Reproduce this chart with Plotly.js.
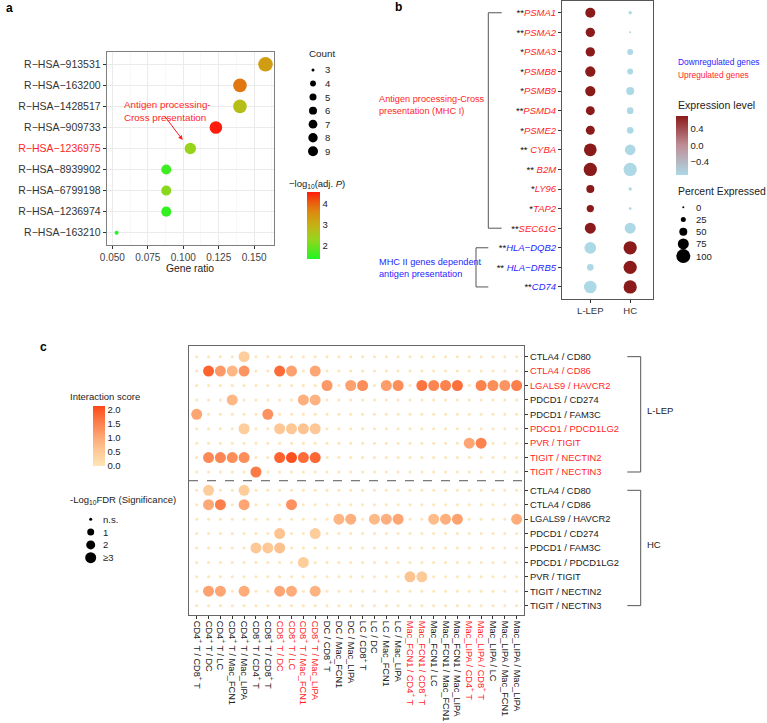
<!DOCTYPE html>
<html><head><meta charset="utf-8">
<script src="https://cdn.plot.ly/plotly-3.0.1.min.js"></script>
<style>html,body{margin:0;padding:0;background:#fff}#chart{width:767px;height:723px}</style>
</head><body><div id="chart"></div>
<script>
// ================= DATA =================
// ---- Panel a : Reactome enrichment ----
const pathways   = ['R−HSA−913531','R−HSA−163200','R−HSA−1428517','R−HSA−909733','R−HSA−1236975','R−HSA−8939902','R−HSA−6799198','R−HSA−1236974','R−HSA−163210'];
const geneRatio  = [0.158, 0.140, 0.140, 0.123, 0.105, 0.088, 0.088, 0.088, 0.053];
const geneCount  = [9, 8, 8, 7, 6, 5, 5, 5, 3];
const negLog10P  = [3.30, 3.80, 2.75, 4.57, 2.35, 1.60, 2.20, 1.50, 1.37];
const highlightPathway = 'R−HSA−1236975';
const ratioTicks = [0.050, 0.075, 0.100, 0.125, 0.150];
const countLegend = [3, 4, 5, 6, 7, 8, 9];
const pLegendTicks = [2, 3, 4];

// ---- Panel b : gene dot plot ----
const genes      = ['PSMA1','PSMA2','PSMA3','PSMB8','PSMB9','PSMD4','PSME2','CYBA','B2M','LY96','TAP2','SEC61G','HLA−DQB2','HLA−DRB5','CD74'];
const geneStars  = ['**','**','*','*','*','**','*','**\u00a0','**\u00a0','*','*','**','**','**\u00a0','**'];
const geneUp     = [true,true,true,true,true,true,true,true,true,true,true,true,false,false,false];
const groupsB    = ['L-LEP','HC'];
const exprLLEP   = [0.707,0.707,0.707,0.707,0.707,0.707,0.707,0.707,0.707,0.707,0.707,0.707,-0.707,-0.707,-0.707];
const exprHC     = [-0.707,-0.707,-0.707,-0.707,-0.707,-0.707,-0.707,-0.707,-0.707,-0.707,-0.707,-0.707,0.707,0.707,0.707];
const pctLLEP    = [67,61,61,69,69,58,58,89,94,50,44,75,81,39,88];
const pctHC      = [11,0,33,33,50,39,39,72,94,11,6,75,94,94,94];
const pctLegend  = [0,25,50,75,100];
const exprTicks  = [-0.4, 0.0, 0.4];
const exprTickText = ['−0.4','0.0','0.4'];

// ---- Panel c : ligand-receptor interactions ----
const cellPairs = ['CD4<sup>+</sup> T / CD8<sup>+</sup> T','CD4<sup>+</sup> T / DC','CD4<sup>+</sup> T / LC','CD4<sup>+</sup> T / Mac_FCN1','CD4<sup>+</sup> T / Mac_LIPA',
  'CD8<sup>+</sup> T / CD4<sup>+</sup> T','CD8<sup>+</sup> T / CD8<sup>+</sup> T','CD8<sup>+</sup> T / DC','CD8<sup>+</sup> T / LC','CD8<sup>+</sup> T / Mac_FCN1','CD8<sup>+</sup> T / Mac_LIPA',
  'DC / CD8<sup>+</sup> T','DC / Mac_FCN1','DC / Mac_LIPA','LC / CD8<sup>+</sup> T','LC / DC','LC / Mac_FCN1','LC / Mac_LIPA',
  'Mac_FCN1 / CD4<sup>+</sup> T','Mac_FCN1 / CD8<sup>+</sup> T','Mac_FCN1 / LC','Mac_FCN1 / Mac_FCN1','Mac_FCN1 / Mac_LIPA',
  'Mac_LIPA / CD4<sup>+</sup> T','Mac_LIPA / CD8<sup>+</sup> T','Mac_LIPA / LC','Mac_LIPA / Mac_FCN1','Mac_LIPA / Mac_LIPA'];
const pairHighlighted = [false,false,false,false,false,false,false,true,true,true,true,false,false,false,false,false,false,false,true,true,false,false,false,true,true,false,false,false];
const interactions = ['CTLA4 / CD80','CTLA4 / CD86','LGALS9 / HAVCR2','PDCD1 / CD274','PDCD1 / FAM3C','PDCD1 / PDCD1LG2','PVR / TIGIT','TIGIT / NECTIN2','TIGIT / NECTIN3'];
const interactionsUpLLEP = ['CTLA4 / CD86','LGALS9 / HAVCR2','PDCD1 / PDCD1LG2','PVR / TIGIT','TIGIT / NECTIN2','TIGIT / NECTIN3'];
const groupsC = ['L-LEP','HC'];
// interaction score per (interaction, cell pair); 0 = not significant
const scoreLLEP = [
  [0,0,0,0,.45,0,0,0,0,0, 0,0,0,0,0,0,0,0,0,0, 0,0,0,0,0,0,0,0],
  [0,1.85,1.2,.8,1.25,0,0,1.75,1.1,0, 1.05,0,0,0,0,0,0,0,0,0, 0,0,0,0,0,0,0,0],
  [0,0,0,0,0,0,0,0,0,0, 0,1.2,0,1.1,1.35,0,1.15,1.35,0,1.65, 1.45,1.5,1.7,0,1.5,1.35,1.25,1.55],
  [0,0,0,.8,0,0,0,0,0,.9, .85,0,0,0,0,0,0,0,0,0, 0,0,0,0,0,0,0,0],
  [1.05,0,0,0,0,0,1.3,0,0,0, 0,0,0,0,0,0,0,0,0,0, 0,0,0,0,0,0,0,0],
  [0,0,0,0,.45,0,0,.55,.55,.6, .55,0,0,0,0,0,0,0,0,0, 0,0,0,0,0,0,0,0],
  [0,0,0,0,0,0,0,0,0,0, 0,0,0,0,0,0,0,0,0,0, 0,0,0,1.05,1.5,0,0,0],
  [0,1.4,1.45,1.35,1.35,0,0,1.85,2.05,1.75, 1.8,0,0,0,0,0,0,0,0,0, 0,0,0,0,0,0,0,0],
  [0,0,0,0,0,1.6,0,0,0,0, 0,0,0,0,0,0,0,0,0,0, 0,0,0,0,0,0,0,0]
];
const scoreHC = [
  [0,.45,0,0,.45,0,0,0,0,0, 0,0,0,0,0,0,0,0,0,0, 0,0,0,0,0,0,0,0],
  [0,1.0,1.55,0,1.05,0,0,0,1.3,0, 0,0,0,0,0,0,0,0,0,0, 0,0,0,0,0,0,0,0],
  [0,0,0,0,0,0,0,0,0,0, 0,0,.8,.9,0,.75,.9,1.05,0,0, .7,.9,1.1,0,0,0,0,.95],
  [0,0,0,0,0,0,0,.6,0,0, .45,0,0,0,0,0,0,0,0,0, 0,0,0,0,0,0,0,0],
  [0,0,0,0,0,.55,.55,.65,0,0, 0,0,0,0,0,0,0,0,0,0, 0,0,0,0,0,0,0,0],
  [0,0,0,0,0,0,0,0,0,.45, 0,0,0,0,0,0,0,0,0,0, 0,0,0,0,0,0,0,0],
  [0,0,0,0,0,0,0,0,0,0, 0,0,0,0,0,0,0,0,.6,.5, 0,0,0,0,0,0,0,0],
  [0,1.1,1.05,0,.95,0,0,1.05,.95,0, .85,0,0,0,0,0,0,0,0,0, 0,0,0,0,0,0,0,0],
  [0,0,0,0,0,0,0,0,0,0, 0,0,0,0,0,0,0,0,0,0, 0,0,0,0,0,0,0,0]
];
const sigOfSignificant = 3;            // all significant dots are drawn at the "≥3" size
const sigLegend = ['n.s.','1','2','≥3'];
const scoreTicks = [0, 0.5, 1.0, 1.5, 2.0];
const scoreTickText = ['0.0','0.5','1.0','1.5','2.0'];

// ================= STYLE / LAYOUT HELPERS =================
const W = 767, H = 723;
const FONT = 'Liberation Sans, Arial, Helvetica, sans-serif';
const RED = '#ff1f1f', BLUE = '#1f1fff', TXT = '#222', AX = '#333';
const px = x => x / W, py = y => 1 - y / H;
function note(x, y, text, opt) {
  return Object.assign({xref:'paper', yref:'paper', x:px(x), y:py(y), text:text, showarrow:false,
    xanchor:'left', yanchor:'middle', font:{family:FONT, size:9.5, color:TXT}}, opt || {});
}
const annotations = [], shapes = [], traces = [];

// ================= PANEL a =================
const scaleA = [[0,'#22f522'],[0.3,'#98d41c'],[0.5,'#c4b214'],[0.7,'#dc8a10'],[0.85,'#ec5a0e'],[1,'#ff1c0c']];
const sizeA = c => 4 + 10.5 * Math.sqrt((c - 3) / 6);
traces.push({type:'scatter', mode:'markers', xaxis:'x', yaxis:'y', hoverinfo:'skip', showlegend:false,
  x: geneRatio, y: pathways.map((_, i) => i),
  marker:{size: geneCount.map(sizeA), color: negLog10P, cmin:1.37, cmax:4.57, colorscale: scaleA, opacity:1, line:{width:0},
    showscale:true, colorbar:{x:px(307), xanchor:'left', y:py(191.7), yanchor:'top', len:67.3, lenmode:'pixels', thickness:13,
      xpad:0, ypad:0, outlinewidth:0, ticks:'', tickvals:pLegendTicks, tickfont:{family:FONT, size:9.5, color:TXT}}}});
annotations.push(note(4, 8, '<b>a</b>', {font:{family:FONT, size:12, color:'#000'}}));
annotations.push(note(190.3, 268, 'Gene ratio', {xanchor:'center', font:{family:FONT, size:10.3, color:TXT}}));
annotations.push(note(307, 54, 'Count', {font:{family:FONT, size:9.8, color:TXT}}));
annotations.push(note(287, 184, '−log<sub>10</sub>(adj. <i>P</i>)', {font:{family:FONT, size:9.5, color:TXT}}));
annotations.push(note(121.5, 111, 'Antigen processing-<br>Cross presentation', {align:'left', font:{family:FONT, size:9.8, color:RED}}));
annotations.push({xref:'paper', yref:'paper', x:px(182.7), y:py(140), ax:-19.4, ay:-25.7, axref:'pixel', ayref:'pixel',
  text:'', showarrow:true, arrowhead:2, arrowsize:0.9, arrowwidth:1, arrowcolor:RED});
// count legend
const countLegendX = 313, countLegendY0 = 70, countLegendStep = 13.55;
traces.push({type:'scatter', mode:'markers', xaxis:'x4', yaxis:'y4', hoverinfo:'skip', showlegend:false, cliponaxis:false,
  x: countLegend.map(() => countLegendX), y: countLegend.map((_, i) => countLegendY0 + i * countLegendStep),
  marker:{color:'#000', opacity:1, size: countLegend.map(c => 3 + 7 * Math.sqrt((c - 3) / 6)), line:{width:0}}});
countLegend.forEach((c, i) => annotations.push(note(323, countLegendY0 + i * countLegendStep, String(c))));

// ================= PANEL b =================
const scaleB = [[0,'#add8e6'],[0.5,'#bf8f97'],[1,'#8b1a1a']];
const sizeB = p => 2 + 12 * p / 100;
const bX = [], bY = [], bC = [], bS = [];
genes.forEach((g, i) => {
  bX.push(0); bY.push(i); bC.push(exprLLEP[i]); bS.push(sizeB(pctLLEP[i]));
  bX.push(1); bY.push(i); bC.push(exprHC[i]);   bS.push(sizeB(pctHC[i]));
});
traces.push({type:'scatter', mode:'markers', xaxis:'x2', yaxis:'y2', hoverinfo:'skip', showlegend:false,
  x:bX, y:bY, marker:{size:bS, color:bC, opacity:1, cmin:-0.707, cmax:0.707, colorscale:scaleB, line:{width:0},
    showscale:true, colorbar:{x:px(676), xanchor:'left', y:py(115.7), yanchor:'top', len:59.3, lenmode:'pixels', thickness:11.5,
      xpad:0, ypad:0, outlinewidth:0, ticks:'', tickvals:exprTicks, ticktext:exprTickText, tickfont:{family:FONT, size:9.5, color:TXT}}}});
const bTickText = genes.map((g, i) => `<span style="color:#111">${geneStars[i]}</span><span style="color:${geneUp[i] ? RED : BLUE}"><i>${g}</i></span>`);
annotations.push(note(393, 7.5, '<b>b</b>', {font:{family:FONT, size:12, color:'#000'}}));
annotations.push(note(376.5, 105, 'Antigen processing-Cross<br>presentation (MHC I)', {align:'left', font:{family:FONT, size:9.2, color:RED}}));
annotations.push(note(376.5, 267.5, 'MHC II genes dependent<br>antigen presentation', {align:'left', font:{family:FONT, size:9.2, color:BLUE}}));
annotations.push(note(676, 61.7, 'Downregulated genes', {font:{family:FONT, size:8.4, color:BLUE}}));
annotations.push(note(676, 74.7, 'Upregulated genes', {font:{family:FONT, size:8.4, color:RED}}));
annotations.push(note(676, 105, 'Expression level', {font:{family:FONT, size:10.6, color:TXT}}));
annotations.push(note(676, 191.7, 'Percent Expressed', {font:{family:FONT, size:10.4, color:TXT}}));
const pctLegendX = 683.3, pctLegendY0 = 207.3, pctLegendStep = 12.2;
traces.push({type:'scatter', mode:'markers', xaxis:'x4', yaxis:'y4', hoverinfo:'skip', showlegend:false, cliponaxis:false,
  x: pctLegend.map(() => pctLegendX), y: pctLegend.map((_, i) => pctLegendY0 + i * pctLegendStep),
  marker:{color:'#000', opacity:1, size: pctLegend.map(sizeB), line:{width:0}}});
pctLegend.forEach((p, i) => annotations.push(note(694, pctLegendY0 + i * pctLegendStep, String(p))));
// brackets b
const brB = [[0, 11, 488.3, 501.7], [12, 14, 476, 488.3]];
brB.forEach(([r0, r1, xa, xb]) => {
  const ln = {color:'#555', width:1};
  shapes.push({type:'line', xref:'paper', yref:'y2', x0:px(xa), x1:px(xa), y0:r0, y1:r1, line:ln});
  shapes.push({type:'line', xref:'paper', yref:'y2', x0:px(xa), x1:px(xb), y0:r0, y1:r0, line:ln});
  shapes.push({type:'line', xref:'paper', yref:'y2', x0:px(xa), x1:px(xb), y0:r1, y1:r1, line:ln});
});

// ================= PANEL c =================
const scaleC = [[0,'#fde5b8'],[0.25,'#fdc996'],[0.5,'#fda472'],[0.75,'#fc7a46'],[1,'#fe4816']];
const groupGap = 0.27;
const rowPos = (g, r) => g * (interactions.length + groupGap) + r;
const sizeSig = s => [3, 7, 9, 11][s];
const cX = [], cY = [], cC = [], cS = [];
[scoreLLEP, scoreHC].forEach((mat, g) => {
  mat.forEach((row, r) => row.forEach((v, k) => {
    cX.push(k); cY.push(rowPos(g, r)); cC.push(v); cS.push(sizeSig(v > 0 ? sigOfSignificant : 0));
  }));
});
traces.push({type:'scatter', mode:'markers', xaxis:'x3', yaxis:'y3', hoverinfo:'skip', showlegend:false,
  x:cX, y:cY, marker:{size:cS, color:cC, opacity:1, cmin:0, cmax:2.13, colorscale:scaleC, line:{width:0},
    showscale:true, colorbar:{x:px(92.7), xanchor:'left', y:py(406), yanchor:'top', len:60, lenmode:'pixels', thickness:12.3,
      xpad:0, ypad:0, outlinewidth:0, ticks:'', tickvals:scoreTicks, ticktext:scoreTickText, tickfont:{family:FONT, size:9.5, color:TXT}}}});
const cYVals = [], cYText = [];
groupsC.forEach((gName, g) => interactions.forEach((it, r) => {
  cYVals.push(rowPos(g, r));
  const red = g === 0 && interactionsUpLLEP.includes(it);
  cYText.push(red ? `<span style="color:${RED}">${it}</span>` : it);
}));
const cXText = cellPairs.map((p, k) => pairHighlighted[k] ? `<span style="color:${RED}">${p}</span>` : p);
annotations.push(note(38, 347, '<b>c</b>', {font:{family:FONT, size:12, color:'#000'}}));
annotations.push(note(67.5, 396.7, 'Interaction score', {font:{family:FONT, size:9.5, color:TXT}}));
annotations.push(note(67.5, 500, '-Log<sub>10</sub>FDR (Significance)', {font:{family:FONT, size:9.5, color:TXT}}));
const sigLegendX = 90.7, sigLegendY0 = 519.3, sigLegendStep = 12.8;
traces.push({type:'scatter', mode:'markers', xaxis:'x4', yaxis:'y4', hoverinfo:'skip', showlegend:false, cliponaxis:false,
  x: sigLegend.map(() => sigLegendX), y: sigLegend.map((_, i) => sigLegendY0 + i * sigLegendStep),
  marker:{color:'#000', opacity:1, size: sigLegend.map((_, i) => sizeSig(i)), line:{width:0}}});
sigLegend.forEach((s, i) => annotations.push(note(101.5, sigLegendY0 + i * sigLegendStep, s)));
// dashed separator between groups
shapes.push({type:'line', xref:'x3 domain', yref:'y3', x0:0, x1:1,
  y0:rowPos(1, 0) - (1 + groupGap) / 2 - 0.03, y1:rowPos(1, 0) - (1 + groupGap) / 2 - 0.03, line:{color:'#555', width:1, dash:'dash'}});
// group brackets c
groupsC.forEach((gName, g) => {
  const r0 = rowPos(g, 0), r1 = rowPos(g, interactions.length - 1), ln = {color:'#555', width:1};
  shapes.push({type:'line', xref:'paper', yref:'y3', x0:px(640.7), x1:px(640.7), y0:r0, y1:r1, line:ln});
  shapes.push({type:'line', xref:'paper', yref:'y3', x0:px(627.3), x1:px(640.7), y0:r0, y1:r0, line:ln});
  shapes.push({type:'line', xref:'paper', yref:'y3', x0:px(627.3), x1:px(640.7), y0:r1, y1:r1, line:ln});
  annotations.push({xref:'paper', yref:'y3', x:px(645), y:(r0 + r1) / 2 - 0.25, text:gName, showarrow:false,
    xanchor:'left', yanchor:'middle', font:{family:FONT, size:9.5, color:TXT}});
});

// ================= AXES =================
const frame = {showline:true, mirror:true, linewidth:1, zeroline:false, ticks:'outside', ticklen:3, tickwidth:1, tickcolor:AX, fixedrange:true};
const layout = {
  width:W, height:H, margin:{l:0, r:0, t:0, b:0}, paper_bgcolor:'#fff', plot_bgcolor:'rgba(0,0,0,0)',
  font:{family:FONT, size:9.5, color:TXT}, hovermode:false, showlegend:false,
  xaxis: Object.assign({}, frame, {domain:[px(106.7), px(274)], anchor:'y', range:[0.046, 0.164], linecolor:'#7f7f7f',
    tickvals:ratioTicks, ticktext:ratioTicks.map(v => v.toFixed(3)), tickfont:{family:FONT, size:10, color:'#444'},
    showgrid:true, gridcolor:'#ebebeb', gridwidth:1,
    minor:{tick0:0.0375, dtick:0.025, showgrid:true, gridcolor:'#f3f3f3', gridwidth:0.6, ticks:''}}),
  yaxis: Object.assign({}, frame, {domain:[py(245.3), py(51.7)], anchor:'x', range:[8.6, -0.6], linecolor:'#7f7f7f',
    tickvals:pathways.map((_, i) => i),
    ticktext:pathways.map(p => p === highlightPathway ? `<span style="color:${RED}">${p}</span>` : p),
    tickfont:{family:FONT, size:10.5, color:'#333'}, showgrid:true, gridcolor:'#ebebeb', gridwidth:1}),
  xaxis2: Object.assign({}, frame, {domain:[px(562), px(653.3)], anchor:'y2', range:[-0.71, 1.58], linecolor:'#555',
    tickvals:[0, 1], ticktext:groupsB, tickfont:{family:FONT, size:9.5, color:'#333'}, showgrid:false}),
  yaxis2: Object.assign({}, frame, {domain:[py(298.7), py(1)], anchor:'x2', range:[14.6, -0.6], linecolor:'#555',
    tickvals:genes.map((_, i) => i), ticktext:bTickText, tickfont:{family:FONT, size:9.5, color:'#333'}, showgrid:false}),
  xaxis3: Object.assign({}, frame, {domain:[px(189), px(524)], anchor:'y3', range:[-0.65, 27.62], linecolor:'#666',
    tickvals:cellPairs.map((_, k) => k), ticktext:cXText, tickangle:90, tickfont:{family:FONT, size:9.2, color:'#222'}, showgrid:false}),
  yaxis3: Object.assign({}, frame, {domain:[py(615), py(346)], anchor:'x3', side:'right', range:[17.92, -0.74], linecolor:'#666',
    tickvals:cYVals, ticktext:cYText, tickfont:{family:FONT, size:9.4, color:'#222'}, showgrid:false}),
  xaxis4: {domain:[0, 1], anchor:'y4', range:[0, W], visible:false, fixedrange:true},
  yaxis4: {domain:[0, 1], anchor:'x4', range:[H, 0], visible:false, fixedrange:true},
  annotations: annotations, shapes: shapes
};
Plotly.newPlot('chart', traces, layout, {staticPlot:true, displayModeBar:false});
</script></body></html>
